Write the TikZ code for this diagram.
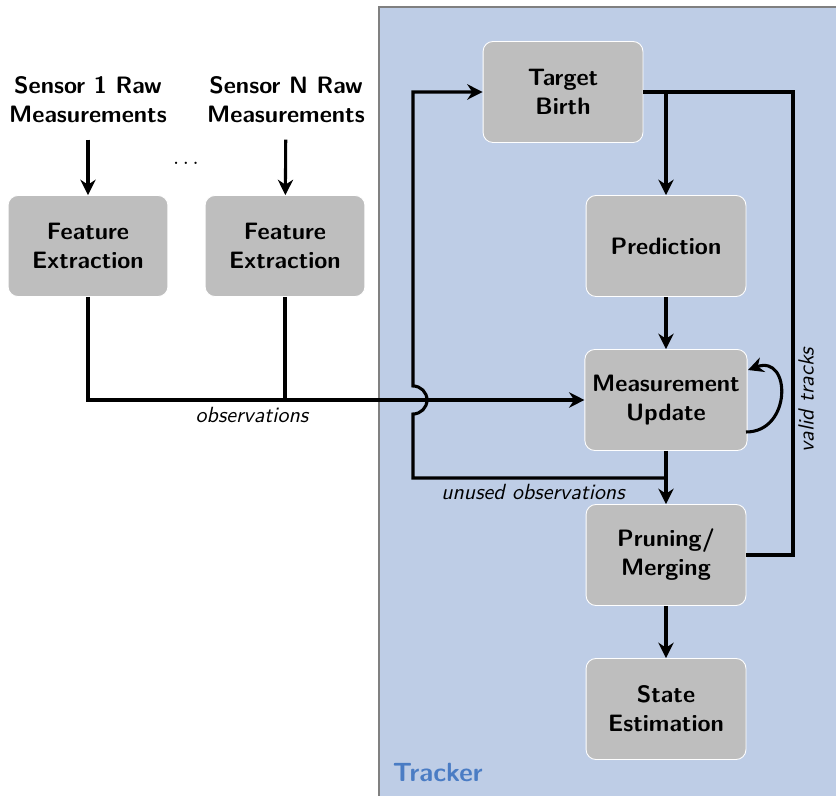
\documentclass[tikz,border=0pt]{standalone}
\usepackage{amsmath}
\usepackage{tikz}
\usepackage{xcolor}
\usetikzlibrary{arrows.meta}

\definecolor{trackerbg}{RGB}{190,205,230}
\definecolor{trackerfg}{RGB}{74,124,196}
\definecolor{blockgray}{RGB}{190,190,190}

\tikzset{
  block/.style={draw=white, fill=blockgray, rounded corners=4.5pt, minimum width=72.8pt,
    minimum height=46pt, align=center, font=\sffamily\bfseries\fontsize{10.8}{13.2}\selectfont},
  rawlabel/.style={align=center, font=\sffamily\bfseries\fontsize{10.8}{13.2}\selectfont},
  flow/.style={line width=1.4pt, -{Stealth[length=7pt,width=7pt]}},
  wire/.style={line width=1.4pt},
  edgelabel/.style={font=\sffamily\itshape\fontsize{10}{12}\selectfont},
}

\begin{document}
\begin{tikzpicture}[x=0.016cm,y=0.016cm]
  \useasboundingbox (0,0) rectangle (836,795);
  % tracker area
  \fill[trackerbg, draw=black!50, line width=0.6pt] (379,788) rectangle (840,-10);
  \node[font=\sffamily\bfseries\fontsize{12}{14}\selectfont, text=trackerfg, anchor=base west] (trk) at (385,14) {Tracker};

  % sensors
  \node[rawlabel] (raw1) at (88,695) {Sensor 1 Raw\\Measurements};
  \node[rawlabel] (rawN) at (286,695) {Sensor N Raw\\Measurements};
  \node[block] (fe1) at (88,549) {Feature\\Extraction};
  \node[block] (feN) at (285,549) {Feature\\Extraction};
  \node (dots) at (186,632) {$\ldots$};

  % tracker blocks
  \node[block] (birth) at (563,703) {Target\\Birth};
  \node[block] (pred) at (666,549) {Prediction};
  \node[block] (upd) at (666,395) {Measurement\\Update};
  \node[block] (prune) at (666,240) {Pruning/\\Merging};
  \node[block] (est) at (666,86) {State\\Estimation};

  \coordinate (obsjoin) at (285,395);
  \coordinate (unused) at (413,317);
  \coordinate (jumplow) at (413,381);
  \coordinate (valid) at (793,703);
  \coordinate (looplow) at (746,363);
  \coordinate (loophigh) at (748,425);

  \draw[flow, shorten <=4pt] (raw1) -- (fe1);
  \draw[flow, shorten <=4pt] (rawN) -- (feN);

  % observations
  \draw[wire] (fe1.south) |- (obsjoin);
  \draw[wire] (feN.south) -- (obsjoin);
  \draw[flow] (obsjoin) -- (upd.west);
  \node[edgelabel] (obs) at (252,380) {observations};

  % unused observations, jumping over
  \draw[flow] (upd.south) -- (prune.north);
  \draw[flow] (upd.south |- unused) -- (unused) -- (jumplow)
    arc[start angle=-90, end angle=90, radius=14] -- (unused |- birth.west) -- (birth.west);
  \node[edgelabel] (unobs) at (533,303) {unused observations};

  % tracker chain
  \draw[flow] (birth.east -| pred.north) -- (pred.north);
  \draw[flow] (pred) -- (upd);
  \draw[flow] (prune) -- (est);
  \draw[flow] (looplow) to[out=0, in=20, looseness=1.9] (loophigh);

  % valid tracks
  \draw[wire] (birth.east) -- (valid) |- (prune.east);
  \node[edgelabel, rotate=90] (vt) at (806,395) {valid tracks};
\end{tikzpicture}
\end{document}
